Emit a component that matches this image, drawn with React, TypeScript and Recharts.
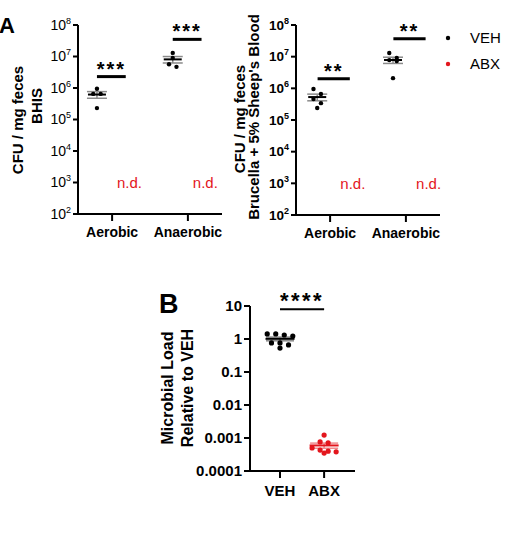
import React from 'react';
import { ScatterChart, Scatter, XAxis, YAxis, ErrorBar, ReferenceLine } from 'recharts';

const FONT = '"Liberation Sans", Arial, Helvetica, sans-serif';
const BLACK = '#000000';
const RED = '#e3161d';
const GREY = '#8a8a8a';

// panel A: CFU / mg feces, VEH mice only (ABX not detected)
const cultureConditions = ['Aerobic', 'Anaerobic'];
const bhisAerobicVeh = [9.5e5, 6.5e5, 6.5e5, 2.3e5];
const bhisAnaerobicVeh = [1.3e7, 9.0e6, 5.7e6, 4.7e6];
const bloodAerobicVeh = [9.5e5, 6.6e5, 4.6e5, 3.4e5, 2.4e5];
const bloodAnaerobicVeh = [1.3e7, 9.1e6, 7.8e6, 7.3e6, 2.1e6];
const bhisStars = ['***', '***'];
const bloodStars = ['**', '**'];
const bhisBracketLevels = [2.3e6, 3.5e7];
const bloodBracketLevels = [2.0e6, 3.7e7];
const notDetectedLevel = 1e3;
const cfuTicks = [1e2, 1e3, 1e4, 1e5, 1e6, 1e7, 1e8];

// panel B: microbial load relative to VEH
const loadGroups = ['VEH', 'ABX'];
const vehLoad = [1.42, 1.42, 1.32, 1.23, 0.76, 0.76, 0.66, 0.53];
const abxLoad = [0.00123, 0.00076, 0.00071, 0.0005, 0.00043, 0.0004, 0.00038, 0.00035];
const loadTicks = [0.0001, 0.001, 0.01, 0.1, 1, 10];
const loadStars = '****';
const loadBracketLevel = 8;

type Pt = { x: number; y: number };

// GraphPad style scatter: points that land on the same row get spread evenly around the centre
const swarm = (values: number[], center: number, pxPerDecade: number, pxPerUnit: number, step: number): Pt[] => {
  const sorted = [...values].sort((a, b) => b - a);
  const rows: number[][] = [];
  sorted.forEach((v) => {
    const row = rows[rows.length - 1];
    if (row && (Math.log10(row[0]) - Math.log10(v)) * pxPerDecade < 5) row.push(v);
    else rows.push([v]);
  });
  return rows.flatMap((row) =>
    row.map((v, i) => ({ x: center + ((i - (row.length - 1) / 2) * step) / pxPerUnit, y: v })),
  );
};

const summary = (values: number[], x: number) => {
  const n = values.length;
  const mean = values.reduce((s, v) => s + v, 0) / n;
  const sd = Math.sqrt(values.reduce((s, v) => s + (v - mean) ** 2, 0) / (n - 1));
  return { x, y: mean, sem: sd / Math.sqrt(n) };
};

const dotShape = (r: number, fill: string) => (p: any) => <circle cx={p.cx} cy={p.cy} r={r} fill={fill} />;

const meanShape = (w: number, stroke: string) => (p: any) => (
  <line x1={p.cx - w / 2} x2={p.cx + w / 2} y1={p.cy} y2={p.cy} stroke={stroke} strokeWidth={2} />
);

const ndShape = (p: any) => (
  <text x={p.cx} y={p.cy} dy="0.35em" textAnchor="middle" fill={RED} fontSize={15} fontFamily={FONT}>
    n.d.
  </text>
);

const PowerTick = ({ x, y, payload, bold }: any) => (
  <text x={x} y={y} dy="0.35em" textAnchor="end" fill={BLACK} fontFamily={FONT} fontSize={bold ? 13.5 : 14} fontWeight={bold ? 700 : 400}>
    10
    <tspan dy={-6} fontSize={9}>
      {Math.round(Math.log10(payload.value))}
    </tspan>
  </text>
);

interface CfuPanelProps {
  left: number;
  height: number;
  aerobic: number[];
  anaerobic: number[];
  stars: string[];
  brackets: number[];
  vehOffset: number;
  abxOffset: number;
  bracketSpan: [number, number];
  boldTicks?: boolean;
}

const CfuPanel: React.FC<CfuPanelProps> = ({
  left,
  height,
  aerobic,
  anaerobic,
  stars,
  brackets,
  vehOffset,
  abxOffset,
  bracketSpan,
  boldTicks = false,
}) => {
  const pxPerDecade = 31.5;
  const pxPerUnit = 76;
  const veh = [
    ...swarm(aerobic, 1 + vehOffset, pxPerDecade, pxPerUnit, 7.5),
    ...swarm(anaerobic, 2 + vehOffset, pxPerDecade, pxPerUnit, 7.5),
  ];
  const means = [summary(aerobic, 1 + vehOffset), summary(anaerobic, 2 + vehOffset)];
  const nd = [
    { x: 1 + abxOffset, y: notDetectedLevel },
    { x: 2 + abxOffset, y: notDetectedLevel },
  ];

  return (
    <div style={{ position: 'absolute', left, top: 0 }}>
      <ScatterChart width={240} height={height} margin={{ top: 25, right: 18, bottom: 6, left: 0 }}>
        <XAxis
          type="number"
          dataKey="x"
          domain={[0.55, 2.45]}
          ticks={[1, 2]}
          interval={0}
          height={30}
          tickSize={7}
          tickMargin={6}
          tickFormatter={(v) => cultureConditions[Math.round(v) - 1]}
          stroke={BLACK}
          strokeWidth={2}
          tick={{ fill: BLACK, fontSize: 14, fontWeight: 700, fontFamily: FONT }}
        />
        <YAxis
          type="number"
          dataKey="y"
          scale="log"
          domain={[1e2, 1e8]}
          ticks={cfuTicks}
          interval={0}
          width={78}
          tickSize={5}
          stroke={BLACK}
          strokeWidth={2}
          tick={<PowerTick bold={boldTicks} />}
        />
        {brackets.map((level, i) => (
          <ReferenceLine
            key={i}
            segment={[
              { x: i + 1 + bracketSpan[0], y: level },
              { x: i + 1 + bracketSpan[1], y: level },
            ]}
            stroke={BLACK}
            strokeWidth={3}
            label={{
              value: stars[i],
              position: 'top',
              offset: 1,
              fill: BLACK,
              fontSize: 20,
              fontWeight: 700,
              fontFamily: FONT,
              letterSpacing: 2,
            }}
          />
        ))}
        <Scatter name="VEH" data={veh} shape={dotShape(2.2, BLACK)} isAnimationActive={false} />
        <Scatter name="VEH mean" data={means} shape={meanShape(18, BLACK)} isAnimationActive={false}>
          <ErrorBar dataKey="sem" direction="y" width={10} stroke={GREY} strokeWidth={1.5} isAnimationActive={false} />
        </Scatter>
        <Scatter name="ABX" data={nd} shape={ndShape} isAnimationActive={false} />
      </ScatterChart>
    </div>
  );
};

const LoadPanel: React.FC = () => {
  const pxPerDecade = 33;
  const pxPerUnit = 44;
  const veh = swarm(vehLoad, 1, pxPerDecade, pxPerUnit, 8.5);
  const abx = swarm(abxLoad, 2, pxPerDecade, pxPerUnit, 8);

  return (
    <div style={{ position: 'absolute', left: 172, top: 280 }}>
      <ScatterChart width={188} height={230} margin={{ top: 26, right: 5, bottom: 4, left: 0 }}>
        <XAxis
          type="number"
          dataKey="x"
          domain={[0.32, 2.7]}
          ticks={[1, 2]}
          interval={0}
          height={35}
          tickSize={7}
          tickMargin={7}
          tickFormatter={(v) => loadGroups[Math.round(v) - 1]}
          stroke={BLACK}
          strokeWidth={2}
          tick={{ fill: BLACK, fontSize: 15, fontWeight: 700, fontFamily: FONT }}
        />
        <YAxis
          type="number"
          dataKey="y"
          scale="log"
          domain={[0.0001, 10]}
          ticks={loadTicks}
          interval={0}
          width={78}
          tickSize={6}
          tickFormatter={(v) => String(v)}
          stroke={BLACK}
          strokeWidth={2}
          tick={{ fill: BLACK, fontSize: 15, fontWeight: 700, fontFamily: FONT }}
        />
        <ReferenceLine
          segment={[
            { x: 1, y: loadBracketLevel },
            { x: 2, y: loadBracketLevel },
          ]}
          stroke={BLACK}
          strokeWidth={2}
          label={{
            value: loadStars,
            position: 'top',
            offset: 1,
            fill: BLACK,
            fontSize: 22,
            fontWeight: 700,
            fontFamily: FONT,
            letterSpacing: 2.5,
          }}
        />
        <Scatter name="VEH" data={veh} shape={dotShape(2.6, BLACK)} isAnimationActive={false} />
        <Scatter name="ABX" data={abx} shape={dotShape(2.6, RED)} isAnimationActive={false} />
        <Scatter name="VEH mean" data={[summary(vehLoad, 1)]} shape={meanShape(29, BLACK)} isAnimationActive={false}>
          <ErrorBar dataKey="sem" direction="y" width={14} stroke={GREY} strokeWidth={1.5} isAnimationActive={false} />
        </Scatter>
        <Scatter name="ABX mean" data={[summary(abxLoad, 2)]} shape={meanShape(29, RED)} isAnimationActive={false}>
          <ErrorBar dataKey="sem" direction="y" width={14} stroke="#ef8a8d" strokeWidth={1.5} isAnimationActive={false} />
        </Scatter>
      </ScatterChart>
    </div>
  );
};

const vTitle = (x: number, y: number, text: string) => (
  <text
    transform={`translate(${x},${y}) rotate(-90)`}
    dy="0.35em"
    textAnchor="middle"
    fontFamily={FONT}
    fontSize={15}
    fontWeight={700}
    fill={BLACK}
  >
    {text}
  </text>
);

export default function App() {
  return (
    <div style={{ position: 'absolute', left: 0, top: 0, width: 513, height: 555, background: '#ffffff' }}>
      <CfuPanel
        left={0}
        height={250}
        aerobic={bhisAerobicVeh}
        anaerobic={bhisAnaerobicVeh}
        stars={bhisStars}
        brackets={bhisBracketLevels}
        vehOffset={-0.2}
        abxOffset={0.23}
        bracketSpan={[-0.2, 0.18]}
      />
      <CfuPanel
        left={218}
        height={251}
        aerobic={bloodAerobicVeh}
        anaerobic={bloodAnaerobicVeh}
        stars={bloodStars}
        brackets={bloodBracketLevels}
        vehOffset={-0.17}
        abxOffset={0.3}
        bracketSpan={[-0.165, 0.26]}
        boldTicks
      />
      <LoadPanel />
      <svg width={513} height={555} style={{ position: 'absolute', left: 0, top: 0, pointerEvents: 'none' }}>
        <text x={-1} y={33} fontFamily={FONT} fontSize={22} fontWeight={700} fill={BLACK}>
          A
        </text>
        <text x={159} y={313} fontFamily={FONT} fontSize={27} fontWeight={700} fill={BLACK}>
          B
        </text>
        {vTitle(17.5, 120, 'CFU / mg feces')}
        {vTitle(37, 106, 'BHIS')}
        {vTitle(240, 119, 'CFU / mg feces')}
        {vTitle(254, 117, "Brucella + 5% Sheep's Blood")}
        <text
          transform="translate(167.5,388) rotate(-90)"
          dy="0.35em"
          textAnchor="middle"
          fontFamily={FONT}
          fontSize={16}
          fontWeight={700}
          fill={BLACK}
        >
          Microbial Load
        </text>
        <text
          transform="translate(187.5,388) rotate(-90)"
          dy="0.35em"
          textAnchor="middle"
          fontFamily={FONT}
          fontSize={16}
          fontWeight={700}
          fill={BLACK}
        >
          Relative to VEH
        </text>
        <circle cx={448} cy={38} r={2.2} fill={BLACK} />
        <text x={470} y={38} dy="0.35em" fontFamily={FONT} fontSize={15} fill={BLACK}>
          VEH
        </text>
        <circle cx={448} cy={64} r={2.2} fill={RED} />
        <text x={470} y={64} dy="0.35em" fontFamily={FONT} fontSize={15} fill={BLACK}>
          ABX
        </text>
      </svg>
    </div>
  );
}
